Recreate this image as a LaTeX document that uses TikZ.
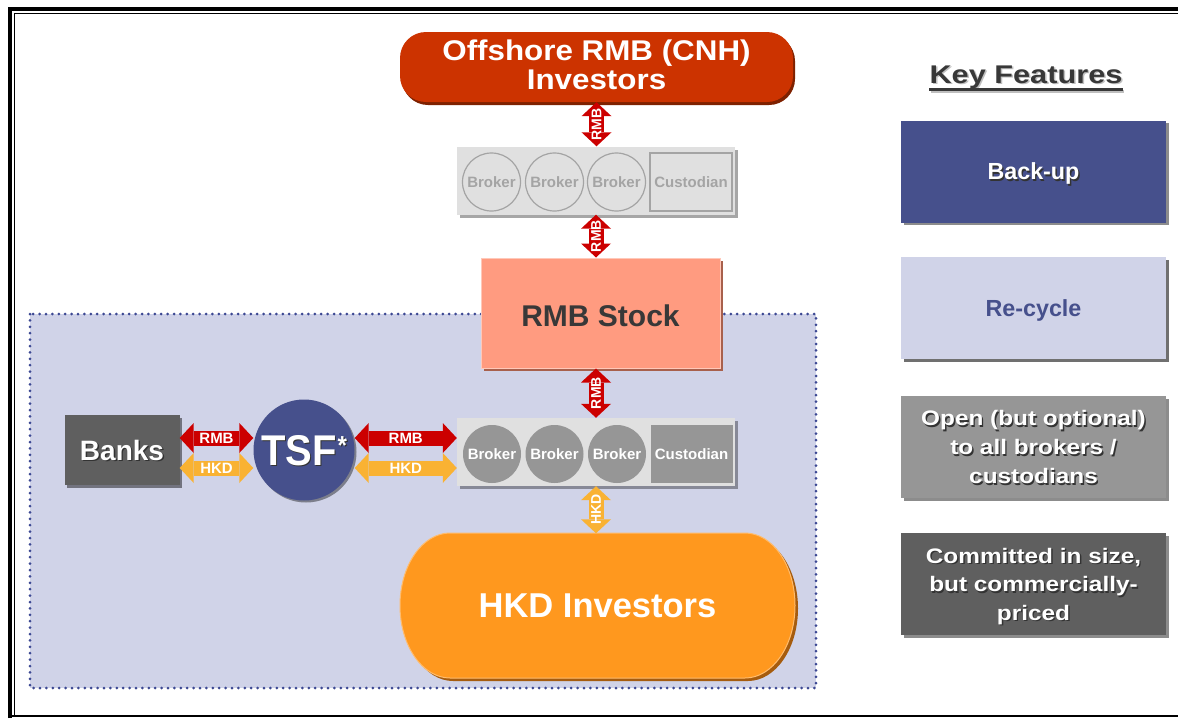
\documentclass[tikz,border=0pt]{standalone}
\usepackage{fontspec}
\setmainfont{Liberation Sans}
\newfontfamily\wideA[FakeStretch=1.1]{Liberation Sans}
\newfontfamily\wideB[FakeStretch=1.2]{Liberation Sans}
\newfontfamily\wideC[FakeStretch=1.16]{Liberation Sans}
\newfontfamily\slimA[FakeStretch=0.93]{Liberation Sans}
\usetikzlibrary{arrows.meta,shadows}

\definecolor{cnhred}{HTML}{CC3300}
\definecolor{cnhdark}{HTML}{7E2100}
\definecolor{salmon}{HTML}{FF9B80}
\definecolor{salmondark}{HTML}{A8604C}
\definecolor{lav}{HTML}{D0D3E8}
\definecolor{navy}{HTML}{46508C}
\definecolor{dotblue}{HTML}{3C4893}
\definecolor{midgray}{HTML}{969696}
\definecolor{darkgray}{HTML}{5F5F5F}
\definecolor{panelgray}{HTML}{E0E0E0}
\definecolor{ghost}{HTML}{A4A4A4}
\definecolor{rmbred}{HTML}{CC0000}
\definecolor{hkdgold}{HTML}{F9B233}
\definecolor{hkdorange}{HTML}{FF981E}
\definecolor{hkddark}{HTML}{A65C0E}
\definecolor{titlegray}{HTML}{383838}

\newcommand{\fsz}[2]{\fontsize{#1}{#2}\selectfont}
% white text with a small dark offset copy behind it
\newcommand{\shd}[1]{\leavevmode\rlap{\kern1.4pt\raisebox{-1.4pt}{\textcolor{black!80}{#1}}}#1}

\tikzset{
  every node/.style={font=\bfseries, inner sep=0pt, text depth=0pt},
  boxsh/.style={drop shadow={shadow xshift=2.5pt, shadow yshift=-2.5pt, fill=black, opacity=0.45}},
  keybox/.style={rectangle, minimum width=265, minimum height=102, text=white, align=center, boxsh},
  broker/.style={circle, minimum size=58, font=\bfseries\fsz{15}{15}},
  custbox/.style={rectangle, minimum width=82, minimum height=58, font=\bfseries\fsz{15}{15}},
  panel/.style={rectangle, fill=panelgray, minimum width=278, minimum height=68,
    drop shadow={shadow xshift=3pt, shadow yshift=-3pt, fill=black, opacity=0.35}},
  rmbline/.style={draw=rmbred, line width=15pt, >={Triangle[width=30pt,length=14pt,line width=0pt]}, <->},
  hkdline/.style={draw=hkdgold, line width=15pt, >={Triangle[width=30pt,length=14pt,line width=0pt]}, <->},
  arrowlabel/.style={text=white, font=\bfseries\fsz{15}{15}},
  varrowlabel/.style={text=white, font=\bfseries\fsz{14}{14}, rotate=90},
}

\begin{document}
\begin{tikzpicture}[x=1pt,y=-1pt]
\useasboundingbox (0,0) rectangle (1178,718);

% page frame
\draw[line width=4pt] (10,718) -- (10,9) -- (1178,9);
\draw[line width=1.2pt] (14.5,715) -- (14.5,13.5) -- (1178,13.5);
\draw[line width=1.6pt] (10,716) -- (1178,716);

% shaded backdrop of the local market
\draw[fill=lav, draw=dotblue, line width=3pt, line cap=round, dash pattern=on 0pt off 6.4pt]
  (30,314) rectangle (816,688);

% key features column
\node[text=titlegray, font=\wideB\bfseries\fsz{25.6}{26}, anchor=base] (kf) at (1026,83)
  {\rlap{\kern1.5pt\raisebox{-1.5pt}{\textcolor{black!25}{Key Features}}}Key Features};
\draw[black!25, line width=3pt] ([xshift=1.5pt,yshift=-8.3pt]kf.base west) -- ([xshift=1.5pt,yshift=-8.3pt]kf.base east);
\draw[titlegray, line width=3pt] ([yshift=-6.8pt]kf.base west) -- ([yshift=-6.8pt]kf.base east);

\node[keybox, fill=navy, font=\bfseries\fsz{23.3}{28}] (kback) at (1033.5,171.5) {\shd{Back-up}};
\node[keybox, fill=lav, text=navy, font=\bfseries\fsz{23.3}{28},
  drop shadow={shadow xshift=2.5pt, shadow yshift=-2.5pt, fill=black, opacity=0.2}] (krec) at (1033.5,308) {Re-cycle};
\node[keybox, fill=midgray, font=\wideC\bfseries\fsz{21}{29}] (kopen) at (1033.5,447)
  {\shd{Open (but optional)}\\\shd{to all brokers /}\\\shd{custodians}};
\node[keybox, fill=darkgray, font=\wideC\bfseries\fsz{21}{28.5}] (kcomm) at (1033.5,584)
  {\shd{Committed in size,}\\\shd{but commercially-}\\\shd{priced}};

% offshore investors
\node[rectangle, rounded corners=26pt, fill=cnhred, minimum width=393, minimum height=70,
  text=white, align=center, font=\wideA\bfseries\fsz{28.5}{29}, text depth=5pt,
  drop shadow={shadow xshift=2pt, shadow yshift=-3pt, fill=cnhdark, opacity=1}]
  (offshore) at (596.5,67) {Offshore RMB (CNH)\\Investors};

% offshore intermediaries
\node[panel] (panelA) at (596,180.5) {};
\node[broker, draw=ghost, line width=1.2pt, text=ghost] (a1) at (491.5,182) {Broker};
\node[broker, draw=ghost, line width=1.2pt, text=ghost] (a2) at (554.5,182) {Broker};
\node[broker, draw=ghost, line width=1.2pt, text=ghost] (a3) at (616.5,182) {Broker};
\node[custbox, draw=ghost, line width=1.2pt, text=ghost] (acust) at (691,182) {Custodian};

% the stock itself
\node[rectangle, fill=salmon, draw=salmon!55!white, line width=1pt,
  minimum width=239, minimum height=110, text=titlegray,
  font=\bfseries\fsz{30}{30}, text height=27.5pt,
  drop shadow={shadow xshift=3pt, shadow yshift=-3pt, fill=salmondark, draw=none, opacity=1}]
  (stock) at (600.5,313) {RMB Stock};

% local intermediaries
\node[panel] (panelB) at (596,452) {};
\node[broker, fill=midgray, text=white] (b1) at (492,454) {Broker};
\node[broker, fill=midgray, text=white] (b2) at (554.5,454) {Broker};
\node[broker, fill=midgray, text=white] (b3) at (617,454) {Broker};
\node[custbox, fill=midgray, text=white] (bcust) at (691.5,454) {Custodian};

% banks and the trading support facility
\node[rectangle, fill=darkgray, minimum width=115, minimum height=70, text=white,
  font=\bfseries\fsz{28}{28}, boxsh] (banks) at (122,450) {\shd{Banks}};
\node[circle, fill=navy, minimum size=101, text=white, font=\slimA\bfseries\fsz{43}{43},
  drop shadow={shadow xshift=2pt, shadow yshift=-2pt, fill=black, opacity=0.4}]
  (tsf) at (304,450) {\shd{TSF}\kern1pt\raisebox{11pt}{\fsz{26}{26}\shd{*}}};

% local investors
\fill[hkddark] (453,536) -- (748,536)
  arc[start angle=-90, end angle=90, x radius=50, y radius=72.5] -- (453,681)
  arc[start angle=90, end angle=270, x radius=50, y radius=72.5] -- cycle;
\fill[hkdorange, draw=hkdorange!65!white, line width=1pt] (450,533) -- (745,533)
  arc[start angle=-90, end angle=90, x radius=50, y radius=72.5] -- (450,678)
  arc[start angle=90, end angle=270, x radius=50, y radius=72.5] -- cycle;
\node[minimum width=395, minimum height=145, text=white, font=\bfseries\fsz{34.5}{34}]
  (hkd) at (597.5,606) {HKD Investors};

% flows
\draw[rmbline] (offshore.south) -- (offshore.south |- panelA.north)
  node[varrowlabel, midway] (fl1) {RMB};
\draw[rmbline] (panelA.south) -- (panelA.south |- stock.north)
  node[varrowlabel, midway] (fl2) {RMB};
\draw[rmbline] (stock.south -| panelB.north) -- (panelB.north)
  node[varrowlabel, midway] (fl3) {RMB};
\draw[hkdline] (panelB.south) -- (panelB.south |- hkd.north)
  node[varrowlabel, midway] (fl4) {HKD};

\draw[rmbline] ([yshift=12pt]banks.east) -- ([yshift=12pt]tsf.west)
  node[arrowlabel, midway] (fl5) {RMB};
\draw[hkdline] ([yshift=-18pt]banks.east) -- ([yshift=-18pt]tsf.west)
  node[arrowlabel, midway] (fl6) {HKD};
\draw[rmbline] ([yshift=12pt]tsf.east) -- ([yshift=12pt]tsf.east -| panelB.west)
  node[arrowlabel, midway] (fl7) {RMB};
\draw[hkdline] ([yshift=-18pt]tsf.east) -- ([yshift=-18pt]tsf.east -| panelB.west)
  node[arrowlabel, midway] (fl8) {HKD};
\end{tikzpicture}
\end{document}
